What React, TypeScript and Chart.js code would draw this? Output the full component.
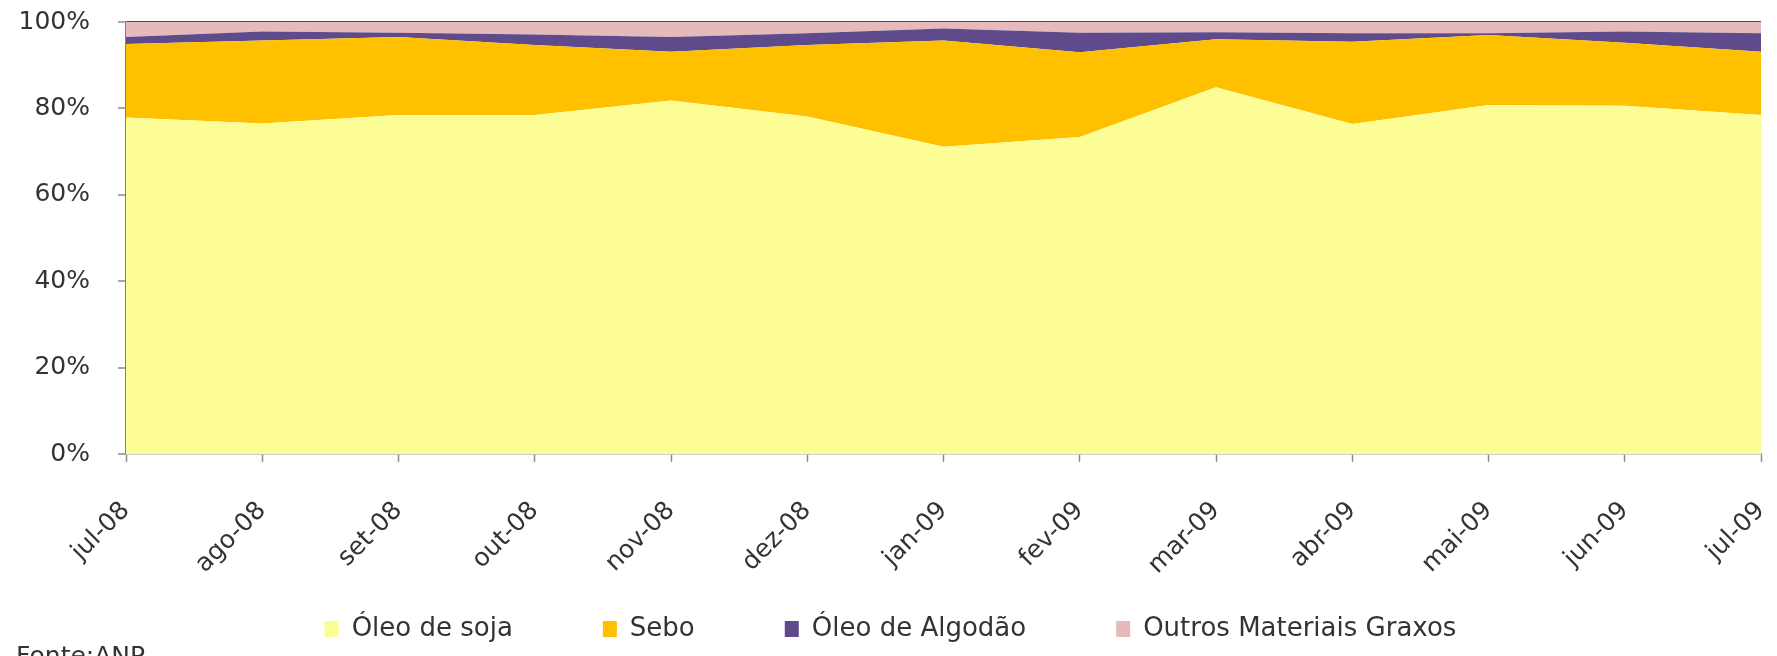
import React, { useEffect, useRef } from 'react';
import { Chart, registerables } from 'chart.js';

Chart.register(...registerables);

const categories = ['jul-08', 'ago-08', 'set-08', 'out-08', 'nov-08', 'dez-08', 'jan-09', 'fev-09', 'mar-09', 'abr-09', 'mai-09', 'jun-09', 'jul-09'];
const oleoSoja = [77.9, 76.5, 78.5, 78.5, 81.8, 78.1, 71.1, 73.4, 84.9, 76.4, 80.8, 80.6, 78.5];
const sebo = [17.0, 19.2, 18.0, 16.2, 11.3, 16.6, 24.6, 19.6, 11.1, 19.0, 16.2, 14.6, 14.6];
const oleoAlgodao = [1.6, 2.1, 1.0, 2.4, 3.4, 2.7, 2.8, 4.5, 1.6, 2.0, 0.4, 2.6, 4.3];
const outrosMateriais = [3.5, 2.2, 2.5, 2.9, 3.5, 2.6, 1.5, 2.5, 2.4, 2.6, 2.6, 2.2, 2.6];
const seriesLabels = ['Óleo de soja', 'Sebo', 'Óleo de Algodão', 'Outros Materiais Graxos'];
const sourceNote = 'Fonte:ANP';

export default function App() {
  const ref = useRef<HTMLCanvasElement>(null);

  useEffect(() => {
    const tickFont = { family: "'DejaVu Sans', sans-serif", size: 25 };
    const legendFont = { family: "'DejaVu Sans', sans-serif", size: 26 };
    const colors = ['#FDFD96', '#FFC000', '#5F4B8B', '#E6B9BA'];
    const values = [oleoSoja, sebo, oleoAlgodao, outrosMateriais];
    const chart = new Chart(ref.current as HTMLCanvasElement, {
      type: 'line',
      data: {
        labels: categories,
        datasets: values.map((data, i) => ({
          label: seriesLabels[i],
          data,
          backgroundColor: colors[i],
          borderColor: colors[i],
          borderWidth: 0,
          pointRadius: 0,
          pointHoverRadius: 0,
          tension: 0,
          fill: i === 0 ? 'origin' : '-1',
        })),
      },
      options: {
        animation: false,
        responsive: true,
        maintainAspectRatio: false,
        layout: { padding: { left: 20, right: 16, top: 22, bottom: 4 } },
        plugins: {
          legend: {
            position: 'bottom',
            labels: { boxWidth: 14, boxHeight: 16, padding: 90, color: '#333333', font: legendFont },
          },
          tooltip: { enabled: false },
        },
        scales: {
          x: {
            z: 1,
            grid: {
              display: true,
              drawOnChartArea: false,
              drawTicks: true,
              tickLength: 8,
              tickColor: '#8c8c8c',
              tickWidth: 1.5,
            },
            border: { display: true, color: '#9a9a9a', width: 1.5 },
            ticks: { maxRotation: 45, minRotation: 45, padding: 34, color: '#333333', font: tickFont, autoSkip: false },
            afterFit: (s: any) => {
              s.height = 72;
              s.paddingLeft = 0;
              s.paddingRight = 0;
              s._computeLabelArea = () => undefined;
            },
          },
          y: {
            stacked: true,
            min: 0,
            max: 100,
            z: 1,
            grid: {
              drawOnChartArea: true,
              color: (c: any) => (c.tick && c.tick.value === 100 ? '#4a4a4a' : 'rgba(0,0,0,0)'),
              lineWidth: (c: any) => (c.tick && c.tick.value === 100 ? 2 : 0),
              tickColor: '#8c8c8c',
              tickWidth: 1.5,
              tickLength: 8,
            },
            border: { display: true, color: '#7c7c94', width: 1.5 },
            ticks: {
              stepSize: 20,
              padding: 28,
              color: '#333333',
              font: tickFont,
              callback: (v: any) => v + '%',
            },
            afterFit: (s: any) => {
              s.width = 106;
              s.paddingTop = 0;
              s.paddingBottom = 0;
              s._computeLabelArea = () => undefined;
            },
          },
        },
      },
    });
    return () => chart.destroy();
  }, []);

  return (
    <div style={{ position: 'fixed', left: 0, top: 0, width: 1777, height: 656, overflow: 'hidden', background: '#ffffff' }}>
      <div style={{ position: 'absolute', left: 0, top: 0, width: 1777, height: 656 }}>
        <canvas ref={ref} />
      </div>
      <div
        style={{
          position: 'absolute',
          left: 16,
          top: 641,
          fontFamily: "'DejaVu Sans', sans-serif",
          fontSize: 25,
          color: '#333333',
          whiteSpace: 'nowrap',
        }}
      >
        {sourceNote}
      </div>
    </div>
  );
}
